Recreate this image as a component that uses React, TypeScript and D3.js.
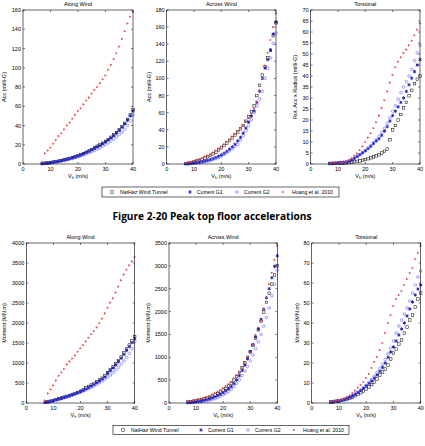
import * as d3 from 'd3';

// wind speed at building top (m/s), one marker per speed
const speeds = [7, 8, 9, 10, 11, 12, 13, 14, 15, 16, 17, 18, 19, 20, 21, 22, 23, 24, 25, 26, 27, 28, 29, 30, 31, 32, 33, 34, 35, 36, 37, 38, 39, 40];

const panelTitles = ['Along Wind', 'Across Wind', 'Torsional'];
const seriesNames = ['NatHaz Wind Tunnel', 'Current G1', 'Current G2', 'Huang et al. 2010'];
const xTicks = [0, 10, 20, 30, 40];

// peak top floor accelerations (milli-G)
const accAlongNatHaz = [0.5, 0.8, 1.1, 1.5, 2, 2.5, 3, 3.6, 4.3, 5, 5.8, 6.6, 7.5, 8.5, 9.6, 10.8, 12.1, 13.5, 15, 16.7, 18.5, 19.8, 21.6, 23.5, 25.5, 27.8, 30.2, 32.8, 35.6, 38.8, 42.3, 46.3, 51, 56.5];
const accAlongG1 = [0.4, 0.7, 1, 1.4, 1.9, 2.4, 2.9, 3.5, 4.2, 4.9, 5.7, 6.5, 7.4, 8.4, 9.5, 10.7, 12, 13.3, 14.7, 16.2, 17.8, 19.3, 21.1, 23, 25, 27.2, 29.6, 32.2, 35, 38.2, 41.7, 45.5, 50, 55];
const accAlongG2 = [0.4, 0.7, 1, 1.3, 1.7, 2.2, 2.7, 3.2, 3.8, 4.4, 5.1, 5.8, 6.6, 7.5, 8.4, 9.4, 10.5, 11.6, 12.8, 14.1, 15.5, 17, 18.6, 20.3, 22.1, 24, 26, 28.2, 30.6, 33.2, 36.2, 40, 45, 51];
const accAlongHuang = [2, 11, 14, 17, 21, 25, 29, 32, 36, 40, 43, 47, 51, 55, 58, 62, 66, 69, 73, 77, 80, 84, 88, 92, 98, 103, 109, 115, 122, 130, 138, 146, 153, 158];

const accAcrossNatHaz = [0.5, 1, 1.5, 2.5, 3.5, 4.5, 5.5, 7, 8.5, 10, 12, 14, 16.5, 19, 21.5, 24.5, 27.5, 30.5, 34, 37.5, 41, 45, 50, 55, 61, 68, 80, 92, 104, 114, 124, 133, 150, 165];
const accAcrossG1 = [0.3, 0.5, 0.8, 1.2, 1.6, 2.1, 2.7, 3.4, 4.2, 5.2, 6.3, 7.6, 9, 10.6, 12.5, 14.7, 17.2, 20, 23, 27, 31, 36, 42, 49, 56, 62, 72, 85, 100, 112, 122, 133, 152, 166];
const accAcrossG2 = [0.2, 0.4, 0.6, 0.9, 1.2, 1.6, 2.1, 2.7, 3.4, 4.2, 5.2, 6.4, 7.8, 9.4, 11.2, 13.3, 15.5, 18, 20.5, 23, 28, 33, 39, 45, 52, 60, 68, 76, 85, 100, 112, 124, 141, 153];
const accAcrossHuang = [1, 1.5, 2.5, 3.5, 4.5, 5.5, 7, 8.5, 10, 11.5, 13.5, 15.5, 18, 20.5, 23, 26, 29, 32, 35, 38.5, 42, 45.5, 49.5, 54, 59, 65, 73, 86, 100, 115, 130, 145, 160, 176];

const accTorsNatHaz = [0.2, 0.2, 0.3, 0.3, 0.4, 0.4, 0.5, 0.6, 0.8, 1, 1.2, 1.4, 1.7, 2, 2.4, 2.8, 3.2, 3.7, 4.2, 5, 5.8, 6.8, 11, 15.5, 17.5, 20, 22.5, 25.5, 28, 31, 33.5, 36.5, 38.5, 40];
const accTorsG1 = [0.3, 0.35, 0.4, 0.5, 0.6, 0.7, 0.9, 1.2, 1.8, 2.6, 3.4, 4.2, 5.1, 6, 7, 8, 9.3, 10.5, 11.5, 13, 15, 17, 19.5, 22, 24, 26, 28, 30, 33, 36, 39, 42, 45, 47.5];
const accTorsG2 = [0.3, 0.4, 0.45, 0.55, 0.65, 0.8, 1, 1.3, 1.9, 2.6, 3.4, 4.2, 5.1, 6.1, 7.2, 8.4, 9.7, 11.1, 12.6, 14.3, 16.1, 18.5, 21, 24, 26.5, 29.5, 32.5, 35, 37.5, 40, 43, 47, 50.5, 54];
const accTorsHuang = [0.3, 0.35, 0.4, 0.5, 0.6, 0.8, 1.1, 1.8, 2.6, 3.7, 4.8, 6.3, 8, 10, 12, 14, 16.3, 19, 22, 25.5, 29, 33, 37, 40.5, 44, 46.5, 48.5, 50.5, 52, 54, 56, 58.5, 61, 64];

// base moments (MN.m)
const momAlongNatHaz = [20, 30, 45, 65, 85, 105, 125, 145, 165, 190, 215, 240, 265, 295, 325, 380, 415, 450, 490, 530, 575, 620, 690, 760, 830, 900, 980, 1060, 1150, 1250, 1350, 1450, 1550, 1660];
const momAlongG1 = [18, 28, 42, 60, 80, 100, 120, 140, 160, 183, 207, 232, 258, 287, 317, 350, 385, 423, 462, 505, 550, 598, 652, 740, 810, 880, 955, 1035, 1120, 1215, 1315, 1410, 1510, 1610];
const momAlongG2 = [15, 25, 38, 55, 73, 92, 111, 130, 150, 172, 195, 218, 243, 270, 298, 328, 360, 394, 430, 468, 508, 550, 596, 645, 700, 760, 825, 895, 970, 1050, 1140, 1240, 1360, 1540];
const momAlongHuang = [60, 240, 340, 440, 560, 680, 770, 850, 960, 1040, 1110, 1190, 1280, 1370, 1450, 1540, 1630, 1720, 1800, 1890, 2000, 2110, 2240, 2380, 2510, 2620, 2760, 2910, 3070, 3210, 3330, 3440, 3540, 3650];

const momAcrossNatHaz = [20, 30, 40, 50, 60, 75, 90, 105, 125, 150, 175, 205, 240, 280, 320, 370, 430, 500, 580, 670, 770, 880, 1000, 1120, 1260, 1420, 1600, 1790, 1990, 2200, 2400, 2600, 2800, 3000];
const momAcrossG1 = [10, 14, 20, 27, 35, 45, 57, 72, 90, 110, 135, 160, 190, 225, 265, 310, 360, 425, 505, 600, 710, 830, 970, 1120, 1280, 1450, 1620, 1830, 2050, 2300, 2500, 2740, 2990, 3220];
const momAcrossG2 = [6, 9, 13, 18, 24, 31, 40, 50, 62, 77, 95, 120, 148, 180, 215, 255, 300, 360, 430, 510, 600, 700, 800, 920, 1050, 1190, 1340, 1500, 1680, 1870, 2080, 2350, 2600, 2900];
const momAcrossHuang = [30, 45, 55, 70, 85, 100, 115, 130, 155, 185, 215, 250, 285, 325, 370, 410, 465, 540, 610, 680, 760, 870, 1000, 1100, 1280, 1490, 1650, 1800, 2050, 2300, 2600, 2850, 3130, 3440];

const momTorsNatHaz = [0.5, 0.6, 0.8, 1, 1.3, 1.6, 2, 2.5, 3, 3.6, 4.3, 5.1, 6, 7, 8, 9.2, 10.5, 12, 14, 15.5, 17, 19, 22, 25, 27, 29.5, 31.5, 35, 38, 41.5, 44, 48, 52, 55];
const momTorsG1 = [0.5, 0.7, 0.9, 1.1, 1.4, 1.8, 2.3, 2.9, 3.6, 4.4, 5.3, 6.3, 7.4, 8.6, 9.8, 11, 12.4, 14, 15.8, 17.8, 20, 22.8, 25.5, 28, 31, 34, 37, 40, 43.5, 47, 50.5, 54, 57, 59];
const momTorsG2 = [0.5, 0.7, 0.9, 1.1, 1.4, 1.8, 2.3, 2.9, 3.6, 4.4, 5.3, 6.3, 7.5, 8.8, 10.2, 11.8, 13.5, 15.3, 17.3, 19.4, 21.7, 24.5, 27.5, 31, 35, 38.5, 41.5, 44.5, 47.5, 51, 55, 59, 63, 66];
const momTorsHuang = [0.8, 1, 1.2, 1.5, 1.8, 2.3, 3, 3.8, 5, 6.2, 7.6, 9, 10.5, 12.5, 14.5, 17.5, 20.5, 23, 26.5, 30, 35, 40, 44, 48.5, 52, 54, 56, 59, 62, 65, 67.5, 72, 75, 78.5];

const FONT = "'Liberation Sans', Arial, sans-serif";
const RED = '#e8484a';
const DARK_BLUE = '#1414b4';
const LIGHT_BLUE = '#4646ff';

const asterisk = d3.symbol(d3.symbolAsterisk, 8)() || '';

function Marker({ kind, cx, cy }: { kind: number; cx: number; cy: number }) {
  if (kind === 0)
    return <rect x={cx - 1.25} y={cy - 1.25} width={2.5} height={2.5} fill="none" stroke="#000" strokeWidth={0.5} />;
  if (kind === 1)
    return <path d={asterisk} transform={`translate(${cx},${cy})`} fill="none" stroke={DARK_BLUE} strokeWidth={0.9} />;
  if (kind === 2)
    return <circle cx={cx} cy={cy} r={1.35} fill="none" stroke={LIGHT_BLUE} strokeWidth={0.5} />;
  return <path d="M-1,-1.3L1.4,0L-1,1.3Z" transform={`translate(${cx},${cy})`} fill={RED} />;
}

interface PanelProps {
  x0: number; x1: number; y0: number; y1: number;
  yMax: number; title: string; yLabel: string; yLabelX: number;
  series: number[][];
}

function Panel({ x0, x1, y0, y1, yMax, title, yLabel, yLabelX, series }: PanelProps) {
  const x = d3.scaleLinear().domain([0, 40]).range([x0, x1]);
  const y = d3.scaleLinear().domain([0, yMax]).range([y1, y0]);
  const yTicks = y.ticks(10);
  const midY = (y0 + y1) / 2;
  return (
    <g fontFamily={FONT} fontSize={5.5} fill="#000">
      <text x={(x0 + x1) / 2} y={y0 - 4} textAnchor="middle">{title}</text>
      {series.map((vals, si) => (
        <g key={si}>
          {vals.map((v, i) => <Marker key={i} kind={si} cx={x(speeds[i])} cy={y(v)} />)}
        </g>
      ))}
      <rect x={x0} y={y0} width={x1 - x0} height={y1 - y0} fill="none" stroke="#000" strokeWidth={0.6} />
      {xTicks.map(t => (
        <g key={t}>
          <line x1={x(t)} x2={x(t)} y1={y1} y2={y1 - 2} stroke="#000" strokeWidth={0.5} />
          <line x1={x(t)} x2={x(t)} y1={y0} y2={y0 + 2} stroke="#000" strokeWidth={0.5} />
          <text x={x(t)} y={y1 + 6.5} textAnchor="middle">{t}</text>
        </g>
      ))}
      {yTicks.map(t => (
        <g key={t}>
          <line x1={x0} x2={x0 + 2} y1={y(t)} y2={y(t)} stroke="#000" strokeWidth={0.5} />
          <line x1={x1} x2={x1 - 2} y1={y(t)} y2={y(t)} stroke="#000" strokeWidth={0.5} />
          <text x={x0 - 2} y={y(t) + 2} textAnchor="end">{t}</text>
        </g>
      ))}
      <text x={(x0 + x1) / 2} y={y1 + 13.5} textAnchor="middle">
        V<tspan fontSize={4} dy={1.5}>h</tspan><tspan dy={-1.5}> (m/s)</tspan>
      </text>
      <text transform={`translate(${yLabelX},${midY}) rotate(-90)`} textAnchor="middle">{yLabel}</text>
    </g>
  );
}

function Legend({ lx, ly, w, h }: { lx: number; ly: number; w: number; h: number }) {
  const markerX = [10, 88, 135, 181];
  const textX = [18, 95, 142, 190];
  const cy = ly + h / 2;
  return (
    <g fontFamily={FONT} fontSize={5.2}>
      <rect x={lx} y={ly} width={w} height={h} fill="#fff" stroke="#000" strokeWidth={0.6} />
      {seriesNames.map((name, i) => (
        <g key={name}>
          <Marker kind={i} cx={lx + markerX[i]} cy={cy} />
          <text x={lx + textX[i]} y={cy + 1.9}>{name}</text>
        </g>
      ))}
    </g>
  );
}

export default function App() {
  const topX = [[23, 133], [166.7, 276], [310.7, 420]];
  const botX = [[26.3, 134.7], [169, 277.3], [311.7, 420.7]];
  const accMax = [160, 180, 70];
  const momMax = [4000, 3500, 80];
  const accLabels = ['Acc (milli-G)', 'Acc (milli-G)', 'Rot. Acc x Radius (milli-G)'];
  const accLabelX = [6, 151, 297];
  const momLabelX = [6, 149.5, 299];
  const accSeries = [
    [accAlongNatHaz, accAlongG1, accAlongG2, accAlongHuang],
    [accAcrossNatHaz, accAcrossG1, accAcrossG2, accAcrossHuang],
    [accTorsNatHaz, accTorsG1, accTorsG2, accTorsHuang],
  ];
  const momSeries = [
    [momAlongNatHaz, momAlongG1, momAlongG2, momAlongHuang],
    [momAcrossNatHaz, momAcrossG1, momAcrossG2, momAcrossHuang],
    [momTorsNatHaz, momTorsG1, momTorsG2, momTorsHuang],
  ];
  return (
    <svg width={425} height={446} style={{ position: 'absolute', left: 0, top: 0, background: '#fff' }}>
      {panelTitles.map((t, i) => (
        <Panel key={'a' + i} x0={topX[i][0]} x1={topX[i][1]} y0={10} y1={164}
          yMax={accMax[i]} title={t} yLabel={accLabels[i]} yLabelX={accLabelX[i]} series={accSeries[i]} />
      ))}
      <Legend lx={102} ly={187} w={237} h={10} />
      <text x={212} y={220} textAnchor="middle" fontFamily="'Open Sans', sans-serif" fontWeight="bold"
        fontSize={10} textLength={199} lengthAdjust="spacingAndGlyphs">Figure 2-20 Peak top floor accelerations</text>
      {panelTitles.map((t, i) => (
        <Panel key={'m' + i} x0={botX[i][0]} x1={botX[i][1]} y0={243} y1={403}
          yMax={momMax[i]} title={t} yLabel="Moment (MN.m)" yLabelX={momLabelX[i]} series={momSeries[i]} />
      ))}
      <Legend lx={113} ly={425.5} w={236} h={9} />
    </svg>
  );
}
